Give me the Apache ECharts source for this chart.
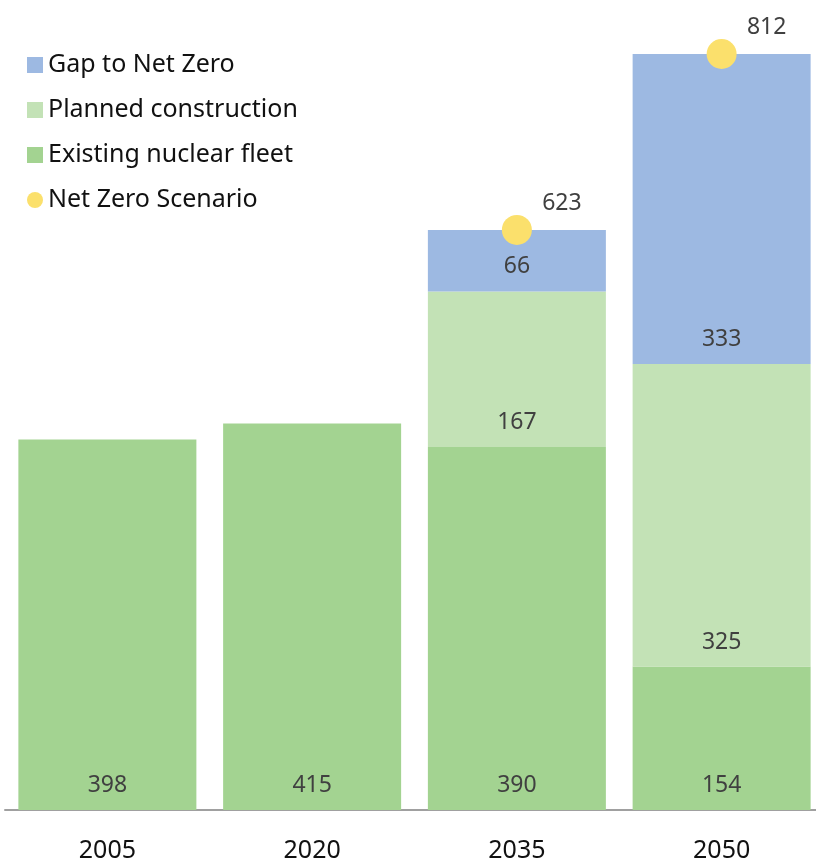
<!DOCTYPE html>
<html>
<head>
<meta charset="utf-8">
<script src="https://cdn.jsdelivr.net/npm/echarts@6/dist/echarts.min.js"></script>
<style>
  html, body { margin: 0; padding: 0; background: #fff; }
  #chart { width: 816px; height: 863px; }
</style>
</head>
<body>
<div id="chart"></div>
<script>
const years = ['2005', '2020', '2035', '2050']
const existingFleet = [398, 415, 390, 154]
const plannedConstruction = [null, null, 167, 325]
const gapToNetZero = [null, null, 66, 333]
const netZeroScenario = [null, null, 623, 812]

const font = 'Noto Sans'
const segLabel = {
  show: true,
  position: 'insideBottom',
  distance: 13,
  fontSize: 23,
  fontFamily: font,
  color: '#404040'
}

const chart = echarts.init(document.getElementById('chart'))
chart.setOption({
  animation: false,
  legend: {
    orient: 'vertical',
    left: 22,
    top: 45,
    itemWidth: 16,
    itemHeight: 16,
    itemGap: 15,
    textStyle: { fontSize: 25, fontFamily: font, color: '#111', lineHeight: 30 },
    data: [
      { name: 'Gap to Net Zero', icon: 'rect' },
      { name: 'Planned construction', icon: 'rect' },
      { name: 'Existing nuclear fleet', icon: 'rect' },
      { name: 'Net Zero Scenario', icon: 'circle' }
    ]
  },
  grid: { left: 5, width: 819, top: 0, bottom: 53, containLabel: false, outerBoundsMode: 'none' },
  xAxis: {
    type: 'category',
    data: years,
    axisLine: { lineStyle: { color: '#a0a0a0', width: 2 } },
    axisTick: { show: false },
    axisLabel: { fontSize: 25, fontFamily: font, color: '#111', margin: 28 }
  },
  yAxis: {
    type: 'value',
    min: 0,
    max: 870,
    show: false,
    splitLine: { show: false }
  },
  series: [
    {
      name: 'Existing nuclear fleet',
      type: 'bar',
      stack: 'cap',
      barWidth: 178,
      itemStyle: { color: '#a3d391' },
      label: segLabel,
      data: existingFleet
    },
    {
      name: 'Planned construction',
      type: 'bar',
      stack: 'cap',
      barWidth: 178,
      itemStyle: { color: '#c3e2b6' },
      label: segLabel,
      data: plannedConstruction
    },
    {
      name: 'Gap to Net Zero',
      type: 'bar',
      stack: 'cap',
      barWidth: 178,
      itemStyle: { color: '#9db9e2' },
      label: segLabel,
      data: gapToNetZero
    },
    {
      name: 'Net Zero Scenario',
      type: 'scatter',
      symbolSize: 30,
      z: 5,
      itemStyle: { color: '#fbe06c', opacity: 1 },
      label: {
        show: true,
        position: 'inside',
        offset: [45, -27],
        fontSize: 23,
        fontFamily: font,
        color: '#404040'
      },
      data: netZeroScenario
    }
  ]
})
</script>
</body>
</html>
